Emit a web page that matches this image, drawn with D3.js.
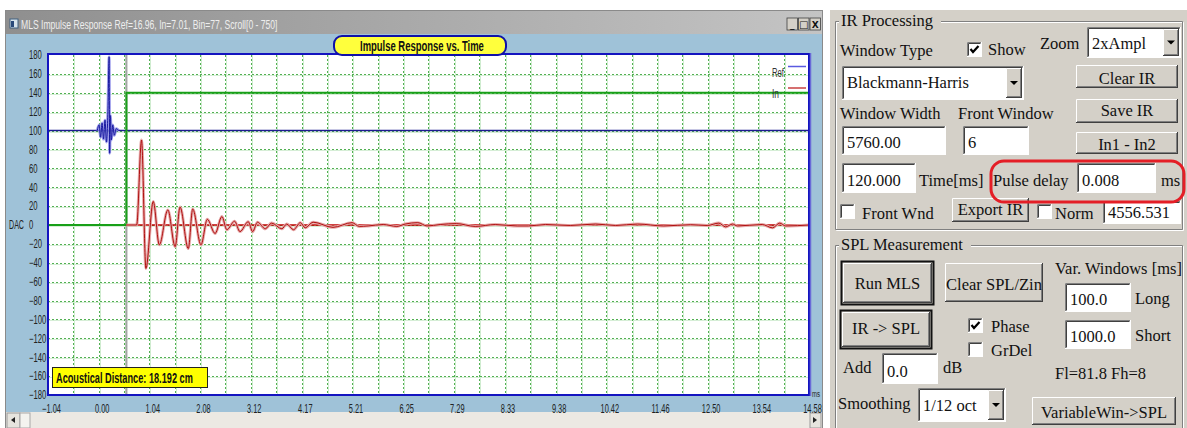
<!DOCTYPE html>
<html><head><meta charset="utf-8">
<script src="https://cdn.jsdelivr.net/npm/d3@7"></script>
<style>
html,body{margin:0;padding:0;background:#fff;overflow:hidden}
svg{display:block}
.nar{font-family:"Liberation Sans",Arial,sans-serif}
.ser{font-family:"Liberation Serif","Times New Roman",serif}
</style></head><body>
<svg id="c" width="1187" height="428"></svg>
<script>
// ---- chart values ----
const xTickLabels = [-1.04, 0.00, 1.04, 2.08, 3.12, 4.17, 5.21, 6.25, 7.29, 8.33, 9.38, 10.42, 11.46, 12.50, 13.54, 14.58];
const yTickLabels = [180, 160, 140, 120, 100, 80, 60, 40, 20, 0, -20, -40, -60, -80, -100, -120, -140, -160, -180];

// reference channel (blue), drawn around its own 100 offset
const refT = [-0.03, 0.01, 0.04, 0.07, 0.10, 0.13, 0.16, 0.19, 0.215, 0.225, 0.24, 0.26, 0.29, 0.32, 0.36, 0.41];
const refV = [100, 106, 93, 108, 91, 111, 88, 120, 178, 76, 116, 90, 106, 95, 102, 100];
const refLevel = 100;

// input channel (red) impulse response
const inT = [0.57, 0.78, 0.88, 0.97, 1.12, 1.245, 1.42, 1.57, 1.67, 1.84, 1.93, 2.10, 2.23, 2.39, 2.53, 2.63, 2.79, 2.90, 3.07, 3.16, 3.26, 3.42, 3.55, 3.76, 3.86, 4.00, 4.14, 4.24, 4.40, 4.81, 5.20, 5.35, 5.53, 5.84, 6.12, 6.29, 6.55, 6.74, 7.01, 7.34, 7.73, 8.14, 8.59, 8.82, 9.17, 9.68, 10.20, 10.61, 11.06, 11.60, 12.15, 12.49, 12.73, 12.87, 13.01, 13.11, 13.62, 13.83, 13.98, 14.10, 14.58];
const inV = [0, 0, 90, -46, 25, -21, 16, -23, 19, -25, 17, -21, 6, -9, 9, -5, 4, -7, 3.5, -7, 3, -4, 2, -4, 1, -5, 2.5, -3, 3, -2.5, 2.5, -1.5, -1, 0.5, -1.5, 1, 2.5, -1, 0.5, 1.5, -1.5, 0.5, -1, -1, 0.5, -0.5, 1, -0.5, 1, -1, 0.3, -0.5, 2, -2, 1, -1, 0.5, -3, 2, -1, 0];

// window (gate) step: start time and height
const gateStart = 0.57;
const gateLevel = 140;

const seriesNames = ["Ref", "In"];
const titleText = "MLS Impulse Response  Ref=16.96, In=7.01, Bin=77, Scroll[0 - 750]";
const chartTitle = "Impulse Response vs. Time";
const distanceText = "Acoustical Distance: 18.192 cm";

// ---- helpers ----
// condense text horizontally (scale about its anchor point)
function squeeze(sel, f) {
  sel.each(function () {
    const t = d3.select(this);
    const x0 = +t.attr("x") || 0;
    t.attr("x", 0).attr("transform", `translate(${x0},0) scale(${f},1)`);
  });
  return sel;
}
function fitTo(sel, w) {
  const f = w / sel.node().getComputedTextLength();
  return squeeze(sel, f);
}

// ---- layout ----
const svg = d3.select("#c");
const plot = {l: 48, r: 809, t: 55, b: 395};
const x = d3.scaleLinear().domain([xTickLabels[0], xTickLabels[xTickLabels.length - 1]]).range([plot.l, plot.r]);
const y = d3.scaleLinear().domain([-180, 180]).range([plot.b, plot.t]);

// window frame
svg.append("rect").attr("x", 0).attr("y", 0).attr("width", 1187).attr("height", 428).attr("fill", "#fff");
svg.append("rect").attr("x", 5).attr("y", 10).attr("width", 818).attr("height", 418).attr("fill", "#9fc2d8");
svg.append("line").attr("x1", 5).attr("x2", 823).attr("y1", 10.5).attr("y2", 10.5).attr("stroke", "#8a8a8a");
svg.append("line").attr("x1", 5.5).attr("x2", 5.5).attr("y1", 10).attr("y2", 428).attr("stroke", "#8a8a8a");
svg.append("line").attr("x1", 822.5).attr("x2", 822.5).attr("y1", 10).attr("y2", 428).attr("stroke", "#8a8a8a");

// title bar
const tg = svg.append("defs").append("linearGradient").attr("id", "tbar");
tg.append("stop").attr("offset", "0").attr("stop-color", "#8f8f8f");
tg.append("stop").attr("offset", "1").attr("stop-color", "#c4c4c4");
svg.append("rect").attr("x", 6).attr("y", 11).attr("width", 816).attr("height", 23).attr("fill", "url(#tbar)");
svg.append("rect").attr("x", 10).attr("y", 19).attr("width", 8).attr("height", 9).attr("fill", "#d8e4ec").attr("stroke", "#406080");
svg.append("rect").attr("x", 11).attr("y", 21).attr("width", 3).attr("height", 6).attr("fill", "#2a4a7a");
fitTo(svg.append("text").attr("class", "nar").attr("x", 21).attr("y", 29).attr("font-size", 13.5)
  .attr("fill", "#eeeeee").text(titleText), 257);
["_", "\u25A1", "X"].forEach((s, i) => {
  const bx = 787 + i * 11.5;
  svg.append("rect").attr("x", bx).attr("y", 18).attr("width", 10.5).attr("height", 12)
    .attr("fill", "#d4d0c8").attr("stroke", "#404040").attr("stroke-width", 0.8);
  svg.append("text").attr("x", bx + 5.2).attr("y", 28).attr("text-anchor", "middle")
    .attr("font-family", "DejaVu Sans").attr("font-size", i === 1 ? 10 : 9).attr("font-weight", "bold").attr("fill", "#111").text(s);
});

// scrollbar
svg.append("rect").attr("x", 6).attr("y", 412).attr("width", 816).attr("height", 16).attr("fill", "#ece9e3");
svg.append("rect").attr("x", 7).attr("y", 413).attr("width", 13).attr("height", 15).attr("fill", "#e6e4de").attr("stroke", "#9a9a9a");
svg.append("rect").attr("x", 20).attr("y", 413).attr("width", 10).attr("height", 15).attr("fill", "#f4f3ef").attr("stroke", "#a8a8a8");
svg.append("path").attr("d", "M11,420 L15,417 L15,423 Z").attr("fill", "#222");
svg.append("rect").attr("x", 810).attr("y", 413).attr("width", 11).attr("height", 15).attr("fill", "#e6e4de").attr("stroke", "#9a9a9a");
svg.append("path").attr("d", "M817,420 L813,417 L813,423 Z").attr("fill", "#222");

// plot background
svg.append("rect").attr("x", plot.l).attr("y", plot.t).attr("width", plot.r - plot.l).attr("height", plot.b - plot.t).attr("fill", "#fff");

// grid: half-step verticals and 20-unit horizontals
const gridX = [];
xTickLabels.forEach((v, i) => {
  gridX.push(v);
  if (i < xTickLabels.length - 1) gridX.push((v + xTickLabels[i + 1]) / 2);
});
const grid = svg.append("g");
grid.selectAll("line.gxh").data(gridX.slice(1, -1)).join("line")
  .attr("x1", d => Math.round(x(d)) + 1.5).attr("x2", d => Math.round(x(d)) + 1.5)
  .attr("y1", plot.t).attr("y2", plot.b)
  .attr("stroke", "#cfeccf").attr("stroke-width", 1);
grid.selectAll("line.gyh").data(yTickLabels.slice(1, -1)).join("line")
  .attr("x1", plot.l).attr("x2", plot.r)
  .attr("y1", d => Math.round(y(d)) + 1.5).attr("y2", d => Math.round(y(d)) + 1.5)
  .attr("stroke", "#d6eed6").attr("stroke-width", 1);
grid.selectAll("line.gx").data(gridX.slice(1, -1)).join("line")
  .attr("x1", d => Math.round(x(d)) + 0.5).attr("x2", d => Math.round(x(d)) + 0.5)
  .attr("y1", plot.t).attr("y2", plot.b)
  .attr("stroke", "#52b052").attr("stroke-width", 1).attr("stroke-dasharray", "2,2");
grid.selectAll("line.gy").data(yTickLabels.slice(1, -1)).join("line")
  .attr("x1", plot.l).attr("x2", plot.r)
  .attr("y1", d => Math.round(y(d)) + 0.5).attr("y2", d => Math.round(y(d)) + 0.5)
  .attr("stroke", "#52b052").attr("stroke-width", 1).attr("stroke-dasharray", "2,2");

// clip for traces
svg.append("clipPath").attr("id", "pc").append("rect")
  .attr("x", plot.l).attr("y", plot.t).attr("width", plot.r - plot.l).attr("height", plot.b - plot.t);
const tr = svg.append("g").attr("clip-path", "url(#pc)");

// gate start marker
tr.append("line").attr("x1", x(gateStart)).attr("x2", x(gateStart)).attr("y1", plot.t).attr("y2", plot.b)
  .attr("stroke", "#a4a4a4").attr("stroke-width", 2);

// reference level line
tr.append("line").attr("x1", plot.l).attr("x2", plot.r).attr("y1", y(refLevel)).attr("y2", y(refLevel))
  .attr("stroke", "#1c1c90").attr("stroke-width", 1.5);

// window step
tr.append("path")
  .attr("d", d3.line()([[plot.l, y(0)], [x(gateStart), y(0)], [x(gateStart), y(gateLevel)], [plot.r, y(gateLevel)]]))
  .attr("fill", "none").attr("stroke", "#18a018").attr("stroke-width", 2);

// input baseline
tr.append("line").attr("x1", x(gateStart)).attr("x2", plot.r).attr("y1", y(0)).attr("y2", y(0))
  .attr("stroke", "#c00000").attr("stroke-width", 1.5);

const curve = d3.line().x(d => x(d[0])).y(d => y(d[1])).curve(d3.curveMonotoneX);
const refPts = refT.map((t, i) => [t, refV[i]]);
const inPts = inT.map((t, i) => [t, inV[i]]);

tr.append("path").attr("d", curve(refPts)).attr("fill", "none").attr("stroke", "#8c8ce8").attr("stroke-width", 3).attr("opacity", 0.85);
tr.append("path").attr("d", curve(refPts)).attr("fill", "none").attr("stroke", "#1a1aa0").attr("stroke-width", 1);
tr.append("path").attr("d", curve(inPts)).attr("fill", "none").attr("stroke", "#e6aaaa").attr("stroke-width", 3);
tr.append("path").attr("d", curve(inPts)).attr("fill", "none").attr("stroke", "#b01010").attr("stroke-width", 1);

// legend
const lg = svg.append("g").attr("class", "nar").attr("font-size", 12).attr("fill", "#333");
[["#5a5ae0", 66.5, 77, 12], ["#c84040", 88, 98, 7]].forEach((c, i) => {
  lg.append("line").attr("x1", 788).attr("x2", 806).attr("y1", c[1]).attr("y2", c[1]).attr("stroke", c[0]).attr("stroke-width", 1.5);
  fitTo(lg.append("text").attr("x", 772).attr("y", c[2]).text(seriesNames[i]), c[3]);
});

// plot frame
svg.append("rect").attr("x", plot.l).attr("y", plot.t - 1).attr("width", plot.r - plot.l).attr("height", plot.b - plot.t + 1)
  .attr("fill", "none").attr("stroke", "#1414c0").attr("stroke-width", 2);
svg.append("line").attr("x1", plot.r + 1.5).attr("x2", plot.r + 1.5).attr("y1", plot.t - 2).attr("y2", plot.b + 1)
  .attr("stroke", "#6a6ad8").attr("stroke-width", 1.5);

// axes
const xAxis = d3.axisBottom(x).tickValues(xTickLabels).tickFormat(d3.format(".2f")).tickSize(0).tickPadding(0);
const xa = svg.append("g").attr("transform", `translate(3,${plot.b + 9})`).call(xAxis);
xa.select(".domain").remove();
squeeze(xa.selectAll("text").attr("class", "nar").attr("font-size", 12).attr("fill", "#222").attr("font-family", null), 0.62);

const yAxis = d3.axisLeft(y).tickValues(yTickLabels).tickFormat(d3.format("d")).tickSize(0).tickPadding(0);
const ya = svg.append("g").attr("transform", "translate(29,0)").call(yAxis);
ya.select(".domain").remove();
squeeze(ya.selectAll("text").attr("class", "nar").attr("text-anchor", "start").attr("x", 0).attr("font-size", 12).attr("fill", "#222").attr("font-family", null), 0.64);

fitTo(svg.append("text").attr("class", "nar").attr("x", 9).attr("y", 229).attr("font-size", 12).attr("fill", "#222").text("DAC"), 15);
fitTo(svg.append("text").attr("class", "nar").attr("x", 812).attr("y", 397).attr("font-size", 9).attr("fill", "#222").text("ms"), 8);

// chart title tab
svg.append("rect").attr("x", 334).attr("y", 36).attr("width", 172).attr("height", 19).attr("rx", 8)
  .attr("fill", "#ffff3c").attr("stroke", "#1010a8").attr("stroke-width", 2);
fitTo(svg.append("text").attr("class", "nar").attr("x", 360).attr("y", 51).attr("font-size", 14)
  .attr("font-weight", "bold").attr("fill", "#111").text(chartTitle), 124);

// distance readout
svg.append("rect").attr("x", 52.5).attr("y", 367.5).attr("width", 155).attr("height", 20)
  .attr("fill", "#ffff00").attr("stroke", "#222").attr("stroke-width", 1);
fitTo(svg.append("text").attr("class", "nar").attr("x", 56).attr("y", 383).attr("font-size", 14)
  .attr("font-weight", "bold").attr("fill", "#111").text(distanceText), 137);

// ---- control panel ----
const P = svg.append("g").attr("class", "ser");
P.append("rect").attr("x", 830).attr("y", 10).attr("width", 357).attr("height", 418).attr("fill", "#d4d0c8");

function lbl(tx, ty, s, anchor) {
  P.append("text").attr("x", tx).attr("y", ty).attr("font-size", 16.5).attr("fill", "#111")
    .attr("text-anchor", anchor || "start").text(s);
}
function hl(x1, y1, x2, y2, c) {
  P.append("line").attr("x1", x1).attr("y1", y1).attr("x2", x2).attr("y2", y2).attr("stroke", c).attr("stroke-width", 1);
}
function raised(bx, by, w, h) {
  P.append("rect").attr("x", bx).attr("y", by).attr("width", w).attr("height", h).attr("fill", "#d4d0c8");
  hl(bx + 0.5, by + 0.5, bx + w - 0.5, by + 0.5, "#fff");
  hl(bx + 0.5, by + 0.5, bx + 0.5, by + h - 0.5, "#fff");
  hl(bx, by + h - 0.5, bx + w, by + h - 0.5, "#404040");
  hl(bx + w - 0.5, by, bx + w - 0.5, by + h, "#404040");
  hl(bx + 1, by + h - 1.5, bx + w - 1, by + h - 1.5, "#808080");
  hl(bx + w - 1.5, by + 1, bx + w - 1.5, by + h - 1, "#808080");
}
function button(bx, by, w, h, s, base, def) {
  if (def) {
    P.append("rect").attr("x", bx - 1.5).attr("y", by - 1.5).attr("width", w + 3).attr("height", h + 3)
      .attr("fill", "none").attr("stroke", "#111").attr("stroke-width", 2);
  }
  raised(bx, by, w, h);
  lbl(bx + w / 2, base, s, "middle");
}
function sunken(bx, by, w, h) {
  P.append("rect").attr("x", bx).attr("y", by).attr("width", w).attr("height", h).attr("fill", "#fff");
  hl(bx + 0.5, by + 0.5, bx + w - 0.5, by + 0.5, "#808080");
  hl(bx + 0.5, by + 0.5, bx + 0.5, by + h - 0.5, "#808080");
  hl(bx + 1.5, by + 1.5, bx + w - 1.5, by + 1.5, "#404040");
  hl(bx + 1.5, by + 1.5, bx + 1.5, by + h - 1.5, "#404040");
  hl(bx, by + h - 0.5, bx + w, by + h - 0.5, "#fff");
  hl(bx + w - 0.5, by, bx + w - 0.5, by + h, "#fff");
}
function field(bx, by, w, h, s, base) {
  sunken(bx, by, w, h);
  lbl(bx + 5, base, s);
}
function combo(bx, by, w, h, s, base) {
  sunken(bx, by, w, h);
  lbl(bx + 5, base, s);
  const aw = 16;
  raised(bx + w - aw - 2, by + 2, aw, h - 4);
  const cx = bx + w - aw / 2 - 2, cy = by + h / 2;
  P.append("path").attr("d", `M${cx - 4},${cy - 2} L${cx + 4},${cy - 2} L${cx},${cy + 2} Z`).attr("fill", "#000");
}
function check(bx, by, on) {
  sunken(bx, by, 15, 15);
  if (on) {
    P.append("path").attr("d", `M${bx + 3.5},${by + 7} L${bx + 6},${by + 10} L${bx + 11.5},${by + 4}`)
      .attr("fill", "none").attr("stroke", "#000").attr("stroke-width", 2.2);
  }
}
function group(bx, by, w, h, title, tw) {
  const r = [[bx, by, bx + w, by], [bx, by, bx, by + h], [bx + w, by, bx + w, by + h], [bx, by + h, bx + w, by + h]];
  r.forEach(s => {
    hl(s[0] + 0.5, s[1] + 0.5, s[2] + 0.5, s[3] + 0.5, "#808080");
    hl(s[0] + 1.5, s[1] + 1.5, s[2] + 1.5, s[3] + 1.5, "#fff");
  });
  P.append("rect").attr("x", bx + 4).attr("y", by - 6).attr("width", tw).attr("height", 12).attr("fill", "#d4d0c8");
  lbl(bx + 6, by + 5, title);
}

// IR Processing group
group(835, 21, 347, 208, "IR Processing", 102);
lbl(840, 56, "Window Type");
check(967, 42, true);
lbl(988, 55, "Show");
lbl(1040, 49, "Zoom");
combo(1087, 27, 94, 31, "2xAmpl", 49);
combo(842, 66, 182, 34, "Blackmann-Harris", 88);
button(1076, 65, 102, 23, "Clear IR", 84);
lbl(840, 119, "Window Width");
lbl(958, 119, "Front Window");
button(1076, 99, 102, 24, "Save IR", 116);
field(842, 126, 104, 29, "5760.00", 148);
field(963, 126, 66, 29, "6", 148);
button(1076, 132, 102, 22, "In1 - In2", 150);
field(842, 163, 74, 30, "120.000", 186);
lbl(919, 186, "Time[ms]");
lbl(993, 186, "Pulse delay");
field(1077, 163, 79, 30, "0.008", 186);
lbl(1161, 186, "ms");
check(840, 204, false);
lbl(862, 219, "Front Wnd");
button(952, 198, 77, 24, "Export IR", 215);
check(1037, 204, false);
lbl(1055, 219, "Norm");
field(1103, 201, 78, 23, "4556.531", 218);

// pulse delay highlight
P.append("rect").attr("x", 991).attr("y", 161).attr("width", 193).attr("height", 41).attr("rx", 13)
  .attr("fill", "none").attr("stroke", "#e41e26").attr("stroke-width", 3);

// SPL Measurement group
group(835, 245, 347, 200, "SPL Measurement", 132);
button(843, 263, 89, 40, "Run MLS", 289, true);
button(945, 263, 98, 39, "Clear SPL/Zin", 290);
lbl(1055, 274, "Var. Windows [ms]");
field(1065, 283, 66, 29, "100.0", 305);
lbl(1135, 304, "Long");
button(842, 312, 88, 35, "IR -> SPL", 334, true);
check(968, 318, true);
lbl(991, 332, "Phase");
check(968, 342, false);
lbl(991, 356, "GrDel");
field(1065, 320, 66, 29, "1000.0", 342);
lbl(1135, 341, "Short");
lbl(843, 373, "Add");
field(882, 353, 56, 31, "0.0", 377);
lbl(943, 373, "dB");
lbl(1055, 379, "Fl=81.8 Fh=8");
lbl(838, 409, "Smoothing");
combo(918, 388, 88, 34, "1/12 oct", 411);
button(1032, 397, 144, 28, "VariableWin->SPL", 418);
</script>
</body></html>
